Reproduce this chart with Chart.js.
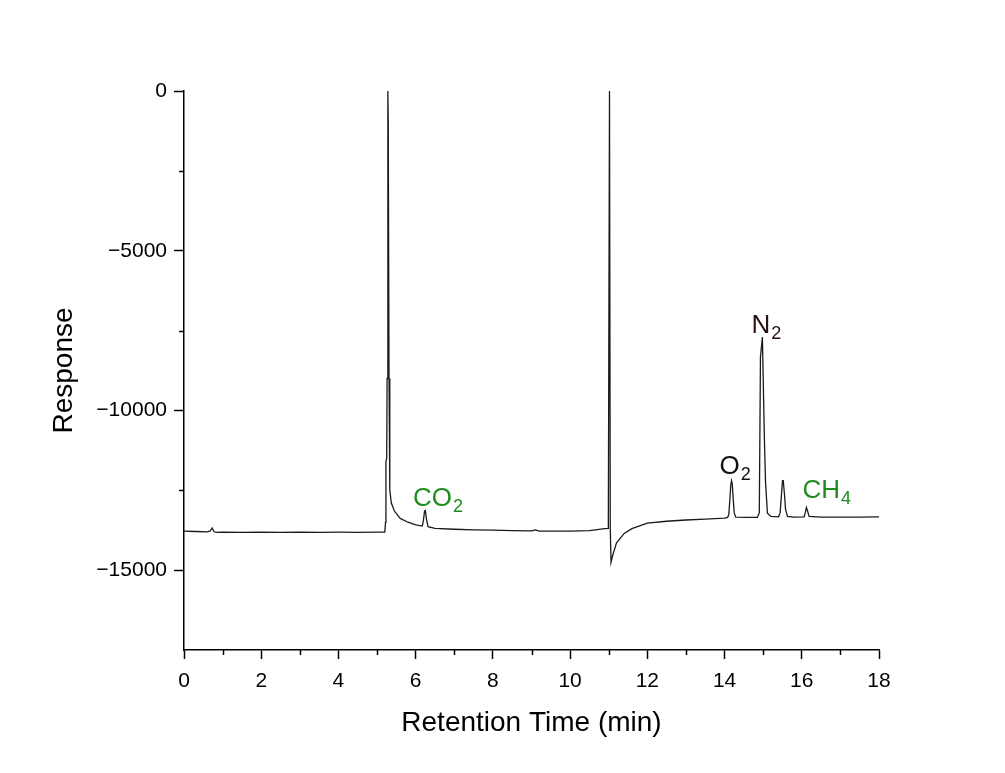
<!DOCTYPE html>
<html>
<head>
<meta charset="utf-8">
<script src="https://cdn.jsdelivr.net/npm/chart.js@4.4.1/dist/chart.umd.min.js"></script>
<style>
  html, body { margin: 0; padding: 0; background: #ffffff; }
  #wrap { width: 1005px; height: 773px; position: relative; }
</style>
</head>
<body>
<div id="wrap"><canvas id="c" width="1005" height="773"></canvas></div>
<script>
// Retention time (min)
const retentionTime = [
  0.00, 0.30, 0.60, 0.68, 0.73, 0.78, 0.85, 1.00, 1.50, 2.00, 2.50, 3.00, 3.50, 4.00, 4.50, 5.00, 5.20,
  5.22, 5.23, 5.25, 5.26, 5.28, 5.29, 5.31, 5.33, 5.37, 5.45, 5.60, 5.80, 6.00, 6.17, 6.20, 6.23, 6.25, 6.28, 6.32,
  6.50, 7.00, 7.50, 8.00, 8.50, 9.00, 9.10, 9.20, 10.00, 10.50, 10.90, 10.99,
  11.02, 11.04, 11.06, 11.10, 11.20, 11.40, 11.60, 12.00, 12.50, 13.00, 13.50, 14.00, 14.08,
  14.11, 14.14, 14.16, 14.18, 14.20, 14.22, 14.25, 14.29, 14.60, 14.85, 14.90, 14.93, 14.98, 15.03, 15.06, 15.11, 15.20,
  15.40, 15.44, 15.47, 15.50, 15.52, 15.55, 15.58, 15.63, 15.80, 16.06, 16.09, 16.12, 16.15, 16.19, 16.50, 17.00, 17.50, 18.00
];
// Detector response
const response = [
  -13780, -13790, -13800, -13770, -13680, -13800, -13820, -13810, -13820, -13810, -13820, -13810, -13815, -13810, -13815, -13810, -13810,
  -13500, -11600, -11500, -9000, 0, -1000, -9000, -12500, -12900, -13150, -13380, -13500, -13580, -13620, -13450, -13150, -13130, -13400, -13640,
  -13690, -13720, -13740, -13750, -13760, -13770, -13740, -13780, -13780, -13760, -13700, -13690,
  0, -13700, -14750, -14550, -14150, -13850, -13700, -13530, -13470, -13430, -13400, -13370, -13350,
  -13250, -12750, -12350, -12200, -12300, -12700, -13200, -13340, -13350, -13350, -13200, -8330, -7700, -10800, -12200, -13220, -13320,
  -13330, -13200, -12700, -12200, -12200, -12600, -13100, -13320, -13340, -13330, -13200, -13040, -13150, -13320, -13340, -13340, -13340, -13330
];
// Axis ticks
const xMajorTicks = [0, 2, 4, 6, 8, 10, 12, 14, 16, 18];
const xMinorTicks = [1, 3, 5, 7, 9, 11, 13, 15, 17];
const yMajorTicks = [-15000, -10000, -5000, 0];
const yMinorTicks = [-2500, -7500, -12500];
// Peak labels: [main text, subscript, time, response, colour]
const peakLabels = [
  ["CO", "2", 5.93, -13000, "#1e8c1e"],
  ["O", "2", 13.87, -12000, "#111111"],
  ["N", "2", 14.70, -7580, "#2a1010"],
  ["CH", "4", 16.02, -12750, "#1e8c1e"]
];

const FONT = "'Liberation Sans', Arial, sans-serif";

const points = retentionTime.map((t, i) => ({ x: t, y: response[i] }));

const bgPlugin = {
  id: 'bg',
  beforeDraw(chart) {
    const ctx = chart.ctx;
    ctx.save();
    ctx.fillStyle = '#ffffff';
    ctx.fillRect(0, 0, chart.width, chart.height);
    ctx.restore();
  }
};

const extrasPlugin = {
  id: 'extras',
  afterDraw(chart) {
    const ctx = chart.ctx;
    const xs = chart.scales.x, ys = chart.scales.y;
    const area = chart.chartArea;
    ctx.save();
    ctx.strokeStyle = '#000';
    ctx.lineWidth = 1.5;
    ctx.beginPath();
    xMinorTicks.forEach(v => {
      const px = Math.round(xs.getPixelForValue(v)) + 0.5;
      ctx.moveTo(px, area.bottom);
      ctx.lineTo(px, area.bottom + 5);
    });
    yMinorTicks.forEach(v => {
      const py = Math.round(ys.getPixelForValue(v)) + 0.5;
      ctx.moveTo(area.left, py);
      ctx.lineTo(area.left - 5, py);
    });
    ctx.stroke();

    peakLabels.forEach(([main, sub, t, r, col]) => {
      const px = xs.getPixelForValue(t);
      const py = ys.getPixelForValue(r);
      ctx.fillStyle = col;
      ctx.textAlign = 'left';
      ctx.textBaseline = 'alphabetic';
      ctx.font = '26px ' + FONT;
      ctx.fillText(main, px, py);
      const w = ctx.measureText(main).width;
      ctx.font = '18px ' + FONT;
      ctx.fillText(sub, px + w + 1, py + 6);
    });
    ctx.restore();
  }
};

new Chart(document.getElementById('c'), {
  type: 'line',
  data: {
    datasets: [{
      data: points,
      borderColor: '#1a1a1a',
      borderWidth: 1.3,
      pointRadius: 0,
      tension: 0,
      fill: false
    }]
  },
  options: {
    responsive: false,
    animation: false,
    events: [],
    layout: { padding: { left: 0, right: 126, top: 91, bottom: 0 } },
    plugins: { legend: { display: false }, tooltip: { enabled: false } },
    scales: {
      x: {
        type: 'linear',
        min: 0, max: 18,
        afterFit(scale) { scale.height = 123; },
        afterBuildTicks(scale) { scale.ticks = xMajorTicks.map(v => ({ value: v })); },
        border: { display: true, color: '#000', width: 1.5 },
        grid: { drawOnChartArea: false, drawTicks: true, tickLength: 9, tickColor: '#000', tickWidth: 1.5 },
        ticks: { color: '#000', font: { family: FONT, size: 21 }, padding: 10, maxRotation: 0, autoSkip: false },
        title: { display: true, text: 'Retention Time (min)', color: '#000', font: { family: FONT, size: 28 }, padding: { top: 0, bottom: 33 } }
      },
      y: {
        type: 'linear',
        min: -17500, max: 0,
        afterFit(scale) { scale.width = 184; },
        afterBuildTicks(scale) { scale.ticks = yMajorTicks.map(v => ({ value: v })); },
        border: { display: true, color: '#000', width: 1.5 },
        grid: { drawOnChartArea: false, drawTicks: true, tickLength: 10, tickColor: '#000', tickWidth: 1.5 },
        ticks: {
          color: '#000', font: { family: FONT, size: 21 }, padding: 7, autoSkip: false,
          callback: v => (v < 0 ? '\u2212' + Math.abs(v) : String(v))
        },
        title: { display: true, text: 'Response', color: '#000', font: { family: FONT, size: 28 }, padding: { top: 47, bottom: 0 } }
      }
    }
  },
  plugins: [bgPlugin, extrasPlugin]
});
</script>
</body>
</html>
